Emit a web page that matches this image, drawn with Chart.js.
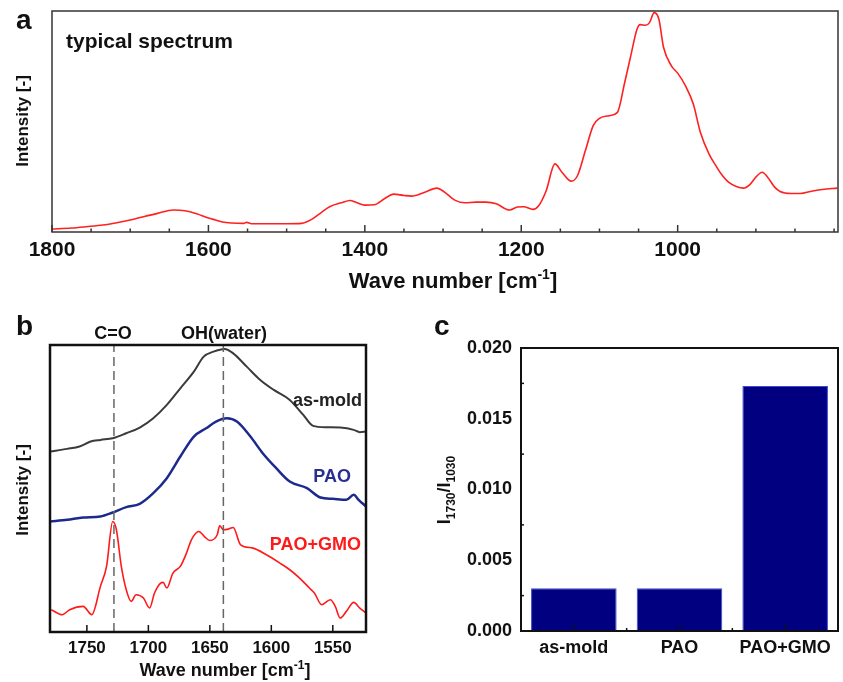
<!DOCTYPE html>
<html lang="en">
<head>
<meta charset="UTF-8">
<title>FTIR spectra</title>
<script src="https://cdn.jsdelivr.net/npm/chart.js@4.4.1/dist/chart.umd.min.js"></script>
<style>
  body { margin: 0; background: #fff; }
  #wrap { position: relative; width: 843px; height: 682px; }
  canvas { position: absolute; }
</style>
</head>
<body>
<div id="wrap">
  <canvas id="chartA" width="843" height="300" style="left:0px;top:0px"></canvas>
  <canvas id="chartB" width="420" height="382" style="left:0px;top:300px"></canvas>
  <canvas id="chartC" width="423" height="382" style="left:420px;top:300px"></canvas>
</div>
<script>
var FONT = '"Liberation Sans", Arial, sans-serif';

// panel a: typical spectrum
var waveA = [1800, 1775, 1756, 1735, 1717, 1700, 1683, 1665, 1645, 1630, 1615, 1600, 1591, 1582, 1570, 1555, 1551, 1545,
  1500, 1481, 1468, 1455, 1445, 1430, 1419, 1410, 1400, 1388, 1375, 1363, 1350, 1340, 1325, 1308, 1298, 1285,
  1272, 1258, 1245, 1232, 1215, 1205, 1197, 1185, 1178, 1168, 1157, 1148, 1136, 1128, 1118, 1108, 1100, 1088,
  1077, 1068, 1060, 1052, 1048, 1041, 1036, 1030, 1024, 1018, 1008, 1000, 990, 980, 971, 960, 950, 945, 935,
  925, 916, 908, 900, 892, 885, 876, 869, 855, 843, 830, 815, 796];
var intensA = [9, 12, 16, 21, 28, 36, 46, 56, 66, 64, 55, 42, 36, 30, 27, 26, 29, 25,
  25, 26, 38, 60, 76, 88, 95, 88, 81, 82, 100, 114, 110, 108, 118, 132, 120, 96,
  88, 90, 90, 85, 66, 75, 76, 68, 78, 125, 205, 180, 153, 170, 245, 320, 342, 350,
  360, 447, 530, 610, 624, 622, 630, 660, 640, 555, 500, 478, 440, 385, 300, 235, 195, 177, 150,
  137, 132, 142, 165, 180, 165, 135, 122, 116, 116, 122, 128, 132];
var ticksA = [1800, 1600, 1400, 1200, 1000];
var minorA = [1750, 1700, 1650, 1550, 1500, 1450, 1350, 1300, 1250, 1150, 1100, 1050, 950, 900, 850, 800];

// panel b: three samples around 1730 / 1640 cm-1
var waveB = [1780, 1766, 1756, 1747, 1739, 1729, 1718, 1707, 1696, 1685, 1674, 1663, 1655, 1647, 1638, 1631,
  1620, 1609, 1598, 1585, 1574, 1566, 1555, 1544, 1533, 1528, 1523];
var asMold = [542, 550, 557, 572, 577, 582, 597, 614, 642, 682, 732, 782, 827, 842, 850, 837,
  797, 757, 727, 697, 652, 619, 615, 614, 607, 600, 602];
var waveBPao = [1780, 1766, 1753, 1739, 1729, 1718, 1707, 1696, 1685, 1674, 1663, 1653, 1645, 1636, 1628, 1617,
  1607, 1596, 1585, 1571, 1560, 1550, 1539, 1533, 1529, 1523];
var pao = [332, 337, 344, 347, 359, 375, 385, 417, 462, 527, 587, 612, 632, 642, 632, 587,
  537, 492, 452, 432, 404, 400, 397, 412, 397, 377];
var waveBGmo = [1779, 1770, 1764, 1753, 1746, 1739, 1734, 1729, 1726, 1722, 1718, 1714, 1710, 1704, 1699, 1695,
  1690, 1688, 1685, 1680, 1674, 1669, 1665, 1659, 1654, 1650, 1644, 1642, 1639, 1635, 1631, 1625, 1615, 1604,
  1593, 1585, 1577, 1569, 1565, 1559, 1552, 1548, 1544, 1539, 1533, 1528, 1523];
var paoGmo = [67, 52, 67, 77, 52, 137, 197, 332, 307, 197, 127, 92, 112, 102, 72, 117,
  147, 149, 132, 177, 197, 237, 277, 302, 285, 275, 292, 319, 307, 309, 314, 262, 252, 232,
  207, 187, 162, 132, 117, 82, 97, 77, 42, 62, 89, 72, 57];
var markerWaves = [1728, 1639];
var ticksB = [1750, 1700, 1650, 1600, 1550];

// panel c: intensity ratio
var samples = ['as-mold', 'PAO', 'PAO+GMO'];
var ratio = [0.00302, 0.00302, 0.01731];

function pts(xs, ys) {
  return xs.map(function (x, i) { return { x: x, y: ys[i] }; });
}

// text with super/subscript parts: [text, size, shift]
function rich(ctx, parts, x, y, align, color) {
  var w = 0;
  parts.forEach(function (p) { ctx.font = 'bold ' + p[1] + 'px ' + FONT; w += ctx.measureText(p[0]).width; });
  var cx = align === 'center' ? x - w / 2 : (align === 'right' ? x - w : x);
  ctx.fillStyle = color || '#111';
  ctx.textAlign = 'left';
  ctx.textBaseline = 'alphabetic';
  parts.forEach(function (p) {
    ctx.font = 'bold ' + p[1] + 'px ' + FONT;
    ctx.fillText(p[0], cx, y + (p[2] || 0));
    cx += ctx.measureText(p[0]).width;
  });
}

function decor(o) {
  return {
    id: 'decor',
    afterDraw: function (chart) {
      var ctx = chart.ctx, a = chart.chartArea;
      var sx = chart.scales.x, sy = chart.scales.y;
      ctx.save();
      ctx.strokeStyle = o.frameColor;
      ctx.lineWidth = o.frameWidth;
      ctx.strokeRect(a.left, a.top, a.right - a.left, a.bottom - a.top);
      ctx.lineWidth = o.tickWidth || 1.5;
      (o.xMajor || []).forEach(function (v) {
        var px = sx.getPixelForValue(v);
        ctx.beginPath(); ctx.moveTo(px, a.bottom); ctx.lineTo(px, a.bottom - o.majorLen); ctx.stroke();
      });
      (o.xMinor || []).forEach(function (v) {
        var px = sx.getPixelForValue(v);
        ctx.beginPath(); ctx.moveTo(px, a.bottom); ctx.lineTo(px, a.bottom - o.minorLen); ctx.stroke();
      });
      (o.yMinor || []).forEach(function (v) {
        var py = sy.getPixelForValue(v);
        ctx.beginPath(); ctx.moveTo(a.left, py); ctx.lineTo(a.left + o.minorLen, py); ctx.stroke();
      });
      (o.texts || []).forEach(function (t) {
        if (t.rot) {
          ctx.save();
          ctx.translate(t.x, t.y);
          ctx.rotate(-Math.PI / 2);
          rich(ctx, t.parts, 0, 0, 'center', t.color);
          ctx.restore();
        } else {
          rich(ctx, t.parts, t.x, t.y, t.align || 'left', t.color);
        }
      });
      ctx.restore();
    }
  };
}

var noPlug = { legend: { display: false }, tooltip: { enabled: false } };
var plainNum = function (v) { return String(v); };

// ---------- panel a ----------
new Chart(document.getElementById('chartA'), {
  type: 'line',
  data: {
    datasets: [{
      data: pts(waveA, intensA),
      borderColor: '#ff2020',
      borderWidth: 1.6,
      pointRadius: 0,
      cubicInterpolationMode: 'monotone'
    }]
  },
  options: {
    responsive: false,
    animation: false,
    layout: { padding: { left: 52, right: 5, top: 11, bottom: 0 } },
    plugins: noPlug,
    scales: {
      x: {
        type: 'linear', reverse: true, min: 795, max: 1800,
        afterBuildTicks: function (s) { s.ticks = ticksA.map(function (v) { return { value: v }; }); },
        afterFit: function (s) { s.height = 68; },
        grid: { display: false, drawTicks: false },
        border: { display: false },
        ticks: { font: { family: FONT, size: 21, weight: 'bold' }, color: '#111', padding: 6, maxRotation: 0, callback: plainNum }
      },
      y: { display: false, min: 0, max: 665 }
    }
  },
  plugins: [decor({
    frameColor: '#3a3333', frameWidth: 1.5, majorLen: 7, minorLen: 3.5,
    xMajor: ticksA, xMinor: minorA,
    texts: [
      { parts: [['a', 28]], x: 16, y: 29 },
      { parts: [['typical spectrum', 21]], x: 66, y: 48 },
      { parts: [['Intensity [-]', 17]], x: 28, y: 121, rot: true },
      { parts: [['Wave number [cm', 22], ['-1', 14, -9], [']', 22]], x: 453, y: 288, align: 'center' }
    ]
  })]
});

// ---------- panel b ----------
var dashSets = markerWaves.map(function (w) {
  return {
    data: [{ x: w, y: 0 }, { x: w, y: 862 }],
    borderColor: '#666',
    borderWidth: 1.5,
    borderDash: [9, 5],
    pointRadius: 0
  };
});

new Chart(document.getElementById('chartB'), {
  type: 'line',
  data: {
    datasets: dashSets.concat([
      { data: pts(waveB, asMold), borderColor: '#3b3b3b', borderWidth: 2, pointRadius: 0, cubicInterpolationMode: 'monotone' },
      { data: pts(waveBPao, pao), borderColor: '#1c2a8e', borderWidth: 2.5, pointRadius: 0, cubicInterpolationMode: 'monotone' },
      { data: pts(waveBGmo, paoGmo), borderColor: '#ff1a1a', borderWidth: 1.6, pointRadius: 0, cubicInterpolationMode: 'monotone' }
    ])
  },
  options: {
    responsive: false,
    animation: false,
    layout: { padding: { left: 50, right: 54, top: 45, bottom: 0 } },
    plugins: noPlug,
    scales: {
      x: {
        type: 'linear', reverse: true, min: 1523, max: 1780,
        afterBuildTicks: function (s) { s.ticks = ticksB.map(function (v) { return { value: v }; }); },
        afterFit: function (s) { s.height = 50; },
        grid: { display: false, drawTicks: false },
        border: { display: false },
        ticks: { font: { family: FONT, size: 17, weight: 'bold' }, color: '#111', padding: 6, maxRotation: 0, callback: plainNum }
      },
      y: { display: false, min: 0, max: 862 }
    }
  },
  plugins: [decor({
    frameColor: '#111', frameWidth: 2.5, majorLen: 7, minorLen: 3,
    xMajor: ticksB,
    texts: [
      { parts: [['b', 28]], x: 16, y: 35 },
      { parts: [['C=O', 18]], x: 113, y: 39, align: 'center' },
      { parts: [['OH(water)', 18]], x: 224, y: 39, align: 'center' },
      { parts: [['as-mold', 18]], x: 362, y: 106, align: 'right', color: '#222' },
      { parts: [['PAO', 18]], x: 351, y: 182, align: 'right', color: '#2a2f8f' },
      { parts: [['PAO+GMO', 18]], x: 361, y: 250, align: 'right', color: '#ff1a1a' },
      { parts: [['Intensity [-]', 17]], x: 28, y: 190, rot: true },
      { parts: [['Wave number [cm', 18], ['-1', 12, -7], [']', 18]], x: 225, y: 376, align: 'center' }
    ]
  })]
});

// ---------- panel c ----------
new Chart(document.getElementById('chartC'), {
  type: 'bar',
  data: {
    labels: samples,
    datasets: [{
      data: ratio,
      backgroundColor: '#000080',
      borderColor: '#3b4bd6',
      borderWidth: 1,
      barPercentage: 0.81,
      categoryPercentage: 1.0
    }]
  },
  options: {
    responsive: false,
    animation: false,
    layout: { padding: { left: 0, right: 5, top: 48, bottom: 0 } },
    plugins: noPlug,
    scales: {
      x: {
        afterFit: function (s) { s.height = 51; },
        grid: { display: false, drawTicks: false },
        border: { display: false },
        ticks: { font: { family: FONT, size: 18, weight: 'bold' }, color: '#111', padding: 6, maxRotation: 0 }
      },
      y: {
        min: 0, max: 0.02,
        afterFit: function (s) { s.width = 101; },
        grid: { display: false, drawTicks: false },
        border: { display: false },
        ticks: {
          stepSize: 0.005, padding: 9, color: '#111',
          font: { family: FONT, size: 18, weight: 'bold' },
          callback: function (v) { return v.toFixed(3); }
        }
      }
    }
  },
  plugins: [decor({
    frameColor: '#111', frameWidth: 2, majorLen: 6, minorLen: 3,
    xMajor: [0, 1, 2], xMinor: [0.5, 1.5],
    yMinor: [0.0025, 0.0075, 0.0125, 0.0175],
    texts: [
      { parts: [['c', 28]], x: 14, y: 35 },
      { parts: [['I', 18], ['1730', 12, 5], ['/I', 18], ['1030', 12, 5]], x: 30, y: 190, rot: true }
    ]
  })]
});
</script>
</body>
</html>
